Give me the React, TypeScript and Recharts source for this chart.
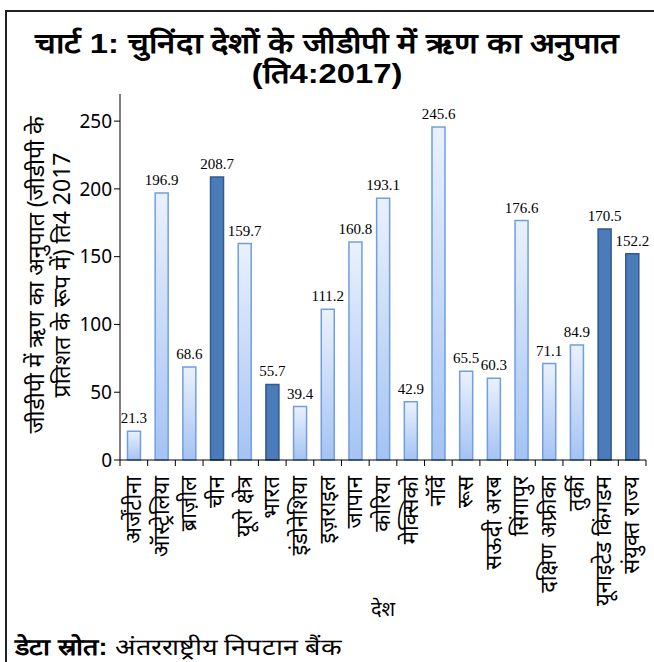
import React from 'react';
import { BarChart, Bar, XAxis, YAxis, LabelList, Cell } from 'recharts';

const countries = [
    'अर्जेंटीना', 'ऑस्ट्रेलिया', 'ब्राज़ील', 'चीन', 'यूरो क्षेत्र', 'भारत', 'इंडोनेशिया',
    'इज़राइल', 'जापान', 'कोरिया', 'मेक्सिको', 'नॉर्वे', 'रूस', 'सऊदी अरब', 'सिंगापुर',
    'दक्षिण अफ्रीका', 'तुर्की', 'यूनाइटेड किंगडम', 'संयुक्त राज्य',
];
const debtRatio = [
    21.3, 196.9, 68.6, 208.7, 159.7, 55.7, 39.4, 111.2, 160.8, 193.1,
    42.9, 245.6, 65.5, 60.3, 176.6, 71.1, 84.9, 170.5, 152.2,
];
// highlighted countries (dark bars)
const highlighted = ['चीन', 'भारत', 'यूनाइटेड किंगडम', 'संयुक्त राज्य'];
const yTicks = [0, 50, 100, 150, 200, 250];

const SANS = '"Noto Sans", "DejaVu Sans", sans-serif';
const HALF_BAND = 526 / 19 / 2;

const data = countries.map((name, i) => ({ name, value: debtRatio[i] }));

const CountryTick = (props: any) => {
    const { x, y, payload, index } = props;
    return (
        <g>
            <line x1={x - HALF_BAND} y1={y - 8} x2={x - HALF_BAND} y2={y - 2} stroke="#000" />
            {index === countries.length - 1 && (
                <line x1={x + HALF_BAND} y1={y - 8} x2={x + HALF_BAND} y2={y - 2} stroke="#000" />
            )}
            <text
                x={0}
                y={0}
                transform={`translate(${x + 7},${y + 8}) rotate(-90)`}
                textAnchor="end"
                fontSize={22}
                fontFamily={SANS}
                fill="#000"
            >
                {payload.value}
            </text>
        </g>
    );
};

export default function App() {
    return (
        <div style={{ position: 'fixed', left: 0, top: 0, width: 654, height: 662, overflow: 'hidden', background: '#fff' }}>
            <div
                style={{
                    position: 'absolute', left: 0, top: 29, width: 654, textAlign: 'center',
                    fontFamily: '"Liberation Sans Narrow", "Liberation Sans", sans-serif',
                    fontWeight: 'bold', fontSize: 28, lineHeight: '30px', color: '#000',
                    transform: 'scaleX(1.17)', transformOrigin: '327px 0',
                }}
            >
                चार्ट 1: चुनिंदा देशों के जीडीपी में ऋण का अनुपात
                <br />
                (ति4:2017)
            </div>
            <BarChart
                width={654}
                height={662}
                data={data}
                margin={{ top: 94, right: 8, left: 0, bottom: 0 }}
                barCategoryGap="27%"
                style={{ position: 'absolute', left: 0, top: 0 }}
            >
                <defs>
                    <linearGradient id="lightBar" x1="0" y1="0" x2="0" y2="1">
                        <stop offset="0%" stopColor="#eaf1fd" />
                        <stop offset="100%" stopColor="#a4c3f3" />
                    </linearGradient>
                </defs>
                <XAxis
                    dataKey="name"
                    interval={0}
                    height={202}
                    tickLine={false}
                    axisLine={{ stroke: '#000' }}
                    tick={<CountryTick />}
                    label={{ value: 'देश', position: 'insideBottom', offset: 46, fontSize: 20, fontFamily: SANS, fill: '#000' }}
                />
                <YAxis
                    width={120}
                    domain={[0, 270]}
                    ticks={yTicks}
                    axisLine={{ stroke: '#000' }}
                    tickLine={{ stroke: '#000' }}
                    tickSize={6}
                    tick={{ fontSize: 19, fontFamily: SANS, fill: '#000' }}
                />
                <Bar dataKey="value" isAnimationActive={false}>
                    {data.map((d) => (
                        <Cell
                            key={d.name}
                            fill={highlighted.includes(d.name) ? '#4a7bbb' : 'url(#lightBar)'}
                            stroke={highlighted.includes(d.name) ? '#355a8a' : '#6f9fe0'}
                            strokeWidth={1.5}
                        />
                    ))}
                    <LabelList
                        dataKey="value"
                        position="top"
                        offset={8}
                        style={{ fontSize: 15, fontFamily: '"Liberation Serif", serif', fill: '#000' }}
                    />
                </Bar>
            </BarChart>
            <div
                style={{
                    position: 'absolute', left: 5, top: 10, width: 700, height: 700, zIndex: 2,
                    boxSizing: 'border-box',
                    borderLeft: '2px solid #222', borderTop: '2px solid #222', pointerEvents: 'none',
                }}
            />
            <div
                style={{
                    position: 'absolute', left: 18, top: 130, width: 60, height: 290,
                    display: 'flex', alignItems: 'center', justifyContent: 'center',
                }}
            >
                <div
                    style={{
                        transform: 'rotate(-90deg)', whiteSpace: 'nowrap', textAlign: 'center',
                        fontFamily: SANS, fontSize: 23, lineHeight: '26px', color: '#000',
                    }}
                >
                    जीडीपी में ऋण का अनुपात (जीडीपी के
                    <br />
                    प्रतिशत के रूप में) ति4 2017
                </div>
            </div>
            <div
                style={{
                    position: 'absolute', left: 15, top: 630, whiteSpace: 'nowrap',
                    fontFamily: '"Liberation Sans", sans-serif', fontSize: 23, color: '#000',
                    transform: 'scaleX(1.17)', transformOrigin: '0 0',
                }}
            >
                <b>डेटा स्रोत:</b> अंतरराष्ट्रीय निपटान बैंक
            </div>
        </div>
    );
}
